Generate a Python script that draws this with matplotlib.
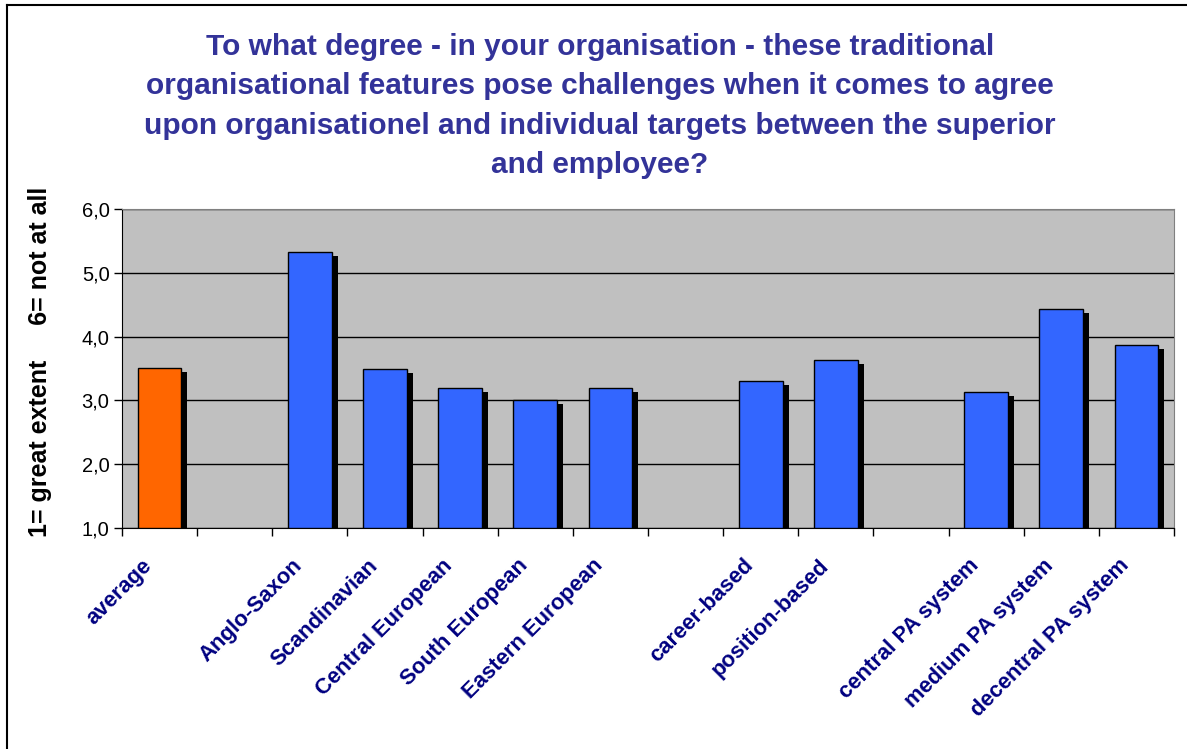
import matplotlib
matplotlib.use("Agg")
import matplotlib.pyplot as plt
import matplotlib.transforms as mtrans
from matplotlib.lines import Line2D

plt.rcParams['font.family'] = ['Liberation Sans', 'DejaVu Sans']

# survey answers (1 = great extent, 6 = not at all), empty slots are gaps
categories = ["average", "", "Anglo-Saxon", "Scandinavian", "Central European",
              "South European", "Eastern European", "", "career-based",
              "position-based", "", "central PA system", "medium PA system",
              "decentral PA system"]
values = [3.51, None, 5.33, 3.49, 3.19, 3.00, 3.19, None, 3.31, 3.63,
          None, 3.13, 4.44, 3.87]
colors = ["#FF6600"] + ["#3366FF"] * 13

title = ("To what degree - in your organisation - these traditional\n"
         "organisational features pose challenges when it comes to agree\n"
         "upon organisationel and individual targets between the superior\n"
         "and employee?")
ylabel = "1= great extent     6= not at all"

fig = plt.figure(figsize=(11.87, 7.49), dpi=100)
ax = fig.add_axes([122 / 1187, 1 - 528 / 749, (1174 - 122) / 1187, (528 - 209) / 749])
ax.set_facecolor("#C0C0C0")

base = 1.0
width = 0.58
dx, dy = 0.08, 0.063  # drop shadow offset
for i, (v, c) in enumerate(zip(values, colors)):
    if v is None:
        continue
    ax.bar(i + dx, v - dy - base, width, bottom=base, color="black", zorder=2)
    ax.bar(i, v - base, width, bottom=base, color=c, edgecolor="black",
           linewidth=1.0, zorder=3)

ax.set_xlim(-0.5, len(categories) - 0.5)
ax.set_ylim(1, 6)
ax.set_yticks([1, 2, 3, 4, 5, 6])
ax.set_yticklabels([f"{t:.1f}".replace(".", ",") for t in [1, 2, 3, 4, 5, 6]],
                   fontsize=14.5)
ax.set_xticks([i - 0.5 for i in range(len(categories) + 1)])
ax.set_xticklabels([])
ax.tick_params(axis="both", direction="out", length=6, width=1, color="black")
ax.tick_params(axis="y", pad=3)
ax.yaxis.grid(True, color="black", linewidth=1)
ax.set_axisbelow(True)
for s in ["top", "right"]:
    ax.spines[s].set_color("#808080")
for s in ["left", "bottom"]:
    ax.spines[s].set_color("black")

# category labels under the slots
trans = mtrans.blended_transform_factory(ax.transData, ax.transAxes)
for i, name in enumerate(categories):
    if not name:
        continue
    ax.text(i - 0.24, -0.085, name, transform=trans, rotation=45,
            rotation_mode="anchor", ha="right", va="top",
            fontsize=15.8, fontweight="bold", color="#000080")

fig.text(40 / 1187, 1 - 362 / 749, ylabel, rotation=90, ha="center",
         va="center", fontsize=18, fontweight="bold", color="black")
fig.text(600 / 1187, 1 - 106 / 749, title, ha="center", va="center",
         fontsize=21.5, fontweight="bold", color="#333399", linespacing=1.52)

# outer chart frame
fig.add_artist(Line2D([7 / 1187, 7 / 1187], [0, 1 - 5 / 749], color="black",
                      linewidth=1.5, transform=fig.transFigure))
fig.add_artist(Line2D([7 / 1187, 1], [1 - 5 / 749, 1 - 5 / 749], color="black",
                      linewidth=1.5, transform=fig.transFigure))

fig.savefig("out.png", dpi=100)
